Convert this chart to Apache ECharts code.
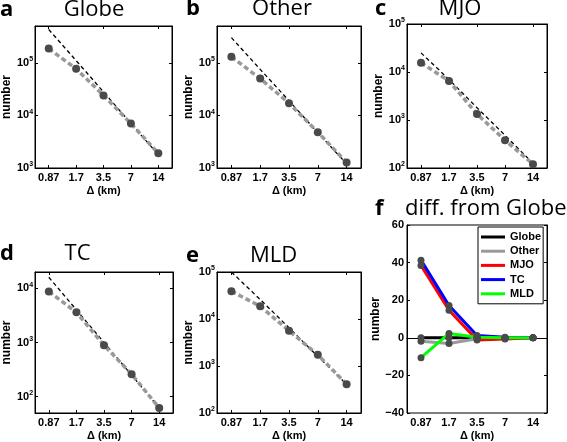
<!DOCTYPE html>
<html><head><meta charset="utf-8">
<script src="https://cdn.jsdelivr.net/npm/echarts@6/dist/echarts.min.js"></script>
<style>html,body{margin:0;padding:0;background:#fff}#c{width:567px;height:442px}</style>
</head><body><div id="c"></div>
<script>
// ---- data ----
const categories = ['0.87', '1.7', '3.5', '7', '14'];
const globeCounts = [1.86e5, 7.7e4, 2.4e4, 7.0e3, 1.9e3];
const otherCounts = [1.3e5, 5.0e4, 1.7e4, 4.8e3, 1.27e3];
const mjoCounts   = [1.56e4, 6.5e3, 1.33e3, 3.8e2, 1.2e2];
const tcCounts    = [8.7e3, 3.6e3, 8.9e2, 2.6e2, 62];
const mldCounts   = [3.9e4, 1.87e4, 5.6e3, 1.73e3, 4.1e2];
const globeRef = [4.3e5, 1.1e5, 2.8e4, 7.0e3, 1.8e3];
const otherRef = [3.0e5, 7.5e4, 1.9e4, 4.7e3, 1.2e3];
const mjoRef   = [2.5e4, 7.0e3, 1.8e3, 4.8e2, 1.25e2];
const tcRef    = [1.6e4, 4.0e3, 1.0e3, 2.5e2, 62];
const mldRef   = [1.0e5, 2.6e4, 6.5e3, 1.6e3, 4.1e2];
const diffNames = ['Globe', 'Other', 'MJO', 'TC', 'MLD'];
const diffGlobe = [0, 0, 0, 0, 0];
const diffOther = [-1.8, -3, -0.5, 0, 0];
const diffMJO   = [38.5, 14.7, -1.2, -0.6, 0];
const diffTC    = [41.3, 17.2, 1.2, 0.3, 0];
const diffMLD   = [-10.6, 2.3, 0.3, 0, 0];
const diffTicks = [-40, 60, 20];

// ---- layout / style ----
const FONT = 'Liberation Sans';
const TFONT = 'Open Sans';
const panels = [
  {letter:'a', title:'Globe', counts:globeCounts, ref:globeRef, min:1e3, max:5e5, grid:{left:30, top:26, width:142, height:142}},
  {letter:'b', title:'Other', counts:otherCounts, ref:otherRef, min:1e3, max:5e5, grid:{left:217, top:26, width:144, height:142}},
  {letter:'c', title:'MJO', counts:mjoCounts, ref:mjoRef, min:1e2, max:1e5, grid:{left:407, top:24, width:140, height:144}},
  {letter:'d', title:'TC', counts:tcCounts, ref:tcRef, min:50, max:2e4, grid:{left:30, top:272, width:143, height:141}},
  {letter:'e', title:'MLD', counts:mldCounts, ref:mldRef, min:1e2, max:1e5, grid:{left:217, top:272, width:144, height:141}}
];
const fGrid = {left:407, top:225, width:140, height:188};
const diffSeries = [
  {name:'Globe', data:diffGlobe, color:'#000000'},
  {name:'Other', data:diffOther, color:'#9a9a9a'},
  {name:'MJO', data:diffMJO, color:'#ff0000'},
  {name:'TC', data:diffTC, color:'#0000ff'},
  {name:'MLD', data:diffMLD, color:'#00ff00'}
];

function logLabel(v) {
  const e = Math.log10(v), r = Math.round(e);
  if (Math.abs(e - r) > 1e-6) return '';
  return '{b|10}{s|' + r + '}';
}
const labelBase = {color:'#000', fontFamily:FONT, fontWeight:'bold', fontSize:11};
const nameStyle = {color:'#000', fontFamily:FONT, fontWeight:'bold', fontSize:11};
function catAxis(gi, top, withName) {
  return {
    type:'category', gridIndex:gi, data:categories, boundaryGap:true, position: top ? 'top' : 'bottom',
    axisLine:{show:true, lineStyle:{color:'#000', width:1}},
    axisTick:{show:true, inside:true, alignWithLabel:true, length:3, lineStyle:{color:'#000'}},
    axisLabel: top ? {show:false} : Object.assign({margin:4, interval:0, hideOverlap:false}, labelBase),
    splitLine:{show:false},
    name: withName ? 'Δ (km)' : '', nameLocation:'middle', nameGap:17,
    nameTextStyle:nameStyle
  };
}
function logAxis(gi, p, right) {
  return {
    type:'log', logBase:10, gridIndex:gi, min:p.min, max:p.max, position: right ? 'right' : 'left',
    axisLine:{show:true, lineStyle:{color:'#000', width:1}},
    axisTick:{show:true, inside:true, length:3, lineStyle:{color:'#000'}},
    axisLabel: right ? {show:false} : {
      margin:2, showMinLabel:true, showMaxLabel:true, formatter:logLabel,
      rich:{
        b:{color:'#000', fontFamily:FONT, fontWeight:'bold', fontSize:11, lineHeight:14},
        s:{color:'#000', fontFamily:FONT, fontWeight:'bold', fontSize:7, lineHeight:6, verticalAlign:'top'}
      }
    },
    splitLine:{show:false}, minorTick:{show:false},
    name: right ? '' : 'number', nameLocation:'middle', nameGap:20,
    nameTextStyle:Object.assign({}, nameStyle, {fontSize:12})
  };
}

const grids = [], xAxes = [], yAxes = [], series = [];
panels.forEach((p, i) => {
  grids.push(Object.assign({show:true, borderColor:'#000', borderWidth:1, backgroundColor:'#fff'}, p.grid));
  xAxes.push(catAxis(i, false, true), catAxis(i, true, false));
  yAxes.push(logAxis(i, p, false), logAxis(i, p, true));
  series.push({
    type:'line', name:p.title + ' slope', xAxisIndex:2*i, yAxisIndex:2*i, data:p.ref,
    symbol:'none', silent:true, z:2,
    lineStyle:{color:'#000', width:1.3, type:[4, 3]}
  });
  series.push({
    type:'line', name:p.title + ' count', xAxisIndex:2*i, yAxisIndex:2*i, data:p.counts,
    symbol:'circle', symbolSize:8, silent:true, z:3,
    itemStyle:{color:'#4a4a4a'},
    lineStyle:{color:'#999', width:3.5, type:[5, 3]}
  });
});
const fi = panels.length;
grids.push(Object.assign({show:true, borderColor:'#000', borderWidth:1, backgroundColor:'#fff'}, fGrid));
xAxes.push(catAxis(fi, false, true), catAxis(fi, true, false));
function valAxis(right) {
  return {
    type:'value', gridIndex:fi, min:diffTicks[0], max:diffTicks[1], interval:diffTicks[2], position: right ? 'right' : 'left',
    axisLine:{show:true, lineStyle:{color:'#000', width:1}},
    axisTick:{show:true, inside:true, length:3, lineStyle:{color:'#000'}},
    axisLabel: right ? {show:false} : Object.assign({margin:3, formatter: v => String(v).replace('-', '\u2212')}, labelBase),
    splitLine:{show:false},
    name: right ? '' : 'number', nameLocation:'middle', nameGap:20,
    nameTextStyle:Object.assign({}, nameStyle, {fontSize:12})
  };
}
yAxes.push(valAxis(false), valAxis(true));
diffSeries.forEach(s => {
  series.push({
    type:'line', name:s.name, xAxisIndex:2*fi, yAxisIndex:2*fi, data:s.data,
    symbol:'circle', symbolSize:7, silent:true, z:3,
    itemStyle:{color:'#4a4a4a'},
    lineStyle:{color:s.color, width:3}
  });
});

function txt(text, x, y, size, bold, align) {
  return {type:'text', x:x, y:y, silent:true, style:{
    text:text, fill:'#000', font:(bold ? 'bold ' : '') + size + 'px "' + TFONT + '"',
    align:align || 'left', verticalAlign:'middle'}};
}
const graphics = [
  txt('a', 0, 10.2, 22, true), txt('Globe', 94, 9.6, 22, false, 'center'),
  txt('b', 186, 9.2, 22, true), txt('Other', 282, 9.2, 22, false, 'center'),
  txt('c', 375, 8.6, 22, true), txt('MJO', 460, 8.6, 22, false, 'center'),
  txt('d', 0, 253.6, 22, true), txt('TC', 77.5, 253.6, 22, false, 'center'),
  txt('e', 186, 255.5, 22, true), txt('MLD', 273.5, 255.5, 22, false, 'center'),
  txt('f', 375, 208.6, 22, true), txt('diff. from Globe', 405, 208.6, 22, false, 'left')
];

const chart = echarts.init(document.getElementById('c'), null, {renderer:'canvas'});
chart.setOption({
  animation:false,
  backgroundColor:'#fff',
  grid:grids, xAxis:xAxes, yAxis:yAxes, series:series,
  graphic:graphics,
  legend:{
    orient:'vertical', left:478, top:227, padding:[3, 2, 3, 3], itemGap:0.2,
    backgroundColor:'#fff', borderColor:'#000', borderWidth:1,
    itemWidth:24, itemHeight:3, icon:'rect', selectedMode:false,
    textStyle:{color:'#000', fontFamily:FONT, fontWeight:'bold', fontSize:11, lineHeight:14},
    data: diffSeries.map(s => ({name:s.name, itemStyle:{color:s.color}}))
  }
});
</script></body></html>
